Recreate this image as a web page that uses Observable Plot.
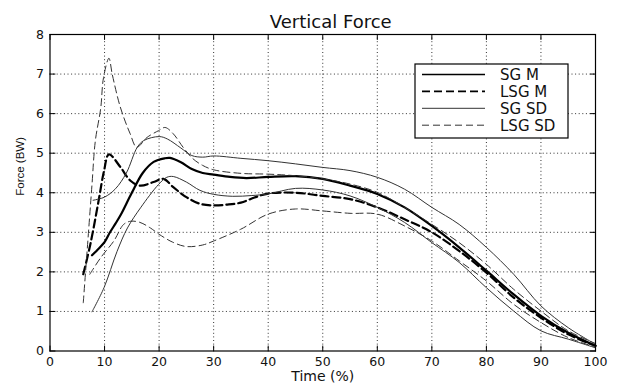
<!DOCTYPE html>
<html><head><meta charset="utf-8">
<script src="https://cdn.jsdelivr.net/npm/d3@7"></script>
<script src="https://cdn.jsdelivr.net/npm/@observablehq/plot@0.6"></script>
<style>
html,body{margin:0;padding:0;background:#fff;}
#chart{width:619px;height:386px;overflow:hidden;}
</style></head><body><div id="chart"></div>
<script>
const titleText = "Vertical Force";
const xLabel = "Time (%)";
const yLabel = "Force (BW)";
const xTicks = [0,10,20,30,40,50,60,70,80,90,100];
const yTicks = [0,1,2,3,4,5,6,7,8];
const seriesNames = ["SG M","LSG M","SG SD","LSG SD"];

// SG M (mean, thick solid)
const sgM_t = [7.7,9,10,11,12,13,15,17,19,21,22,24,26,28,30,33,36,40,45,50,55,60,65,70,75,80,85,90,95,100];
const sgM_f = [2.42,2.6,2.75,3.0,3.22,3.45,4.0,4.5,4.78,4.87,4.88,4.77,4.6,4.5,4.46,4.4,4.37,4.4,4.42,4.35,4.18,3.97,3.63,3.16,2.62,2.03,1.43,0.89,0.46,0.13];
// LSG M (mean, thick dashed)
const lsgM_t = [6.1,7.4,8.9,9.9,10.8,12.9,14.7,16.5,19,20.8,22.6,25,27.5,30,32.5,35,37.5,40,45,50,55,60,65,70,75,80,85,90,95,100];
const lsgM_f = [1.94,2.7,3.79,4.55,4.97,4.65,4.31,4.18,4.27,4.35,4.14,3.89,3.72,3.68,3.7,3.75,3.88,3.98,4.0,3.92,3.84,3.63,3.33,3.0,2.53,1.98,1.35,0.84,0.42,0.13];
// SG SD upper / lower (thin solid)
const sgSDu_t = [7.9,10,12,14,16,17.2,20,21.5,24,26,28,30,35,40,45,50,55,60,65,70,75,80,85,90,95,100];
const sgSDu_f = [3.81,3.89,4.1,4.5,5.15,5.32,5.42,5.36,5.13,4.94,4.9,4.93,4.87,4.81,4.73,4.64,4.56,4.39,4.09,3.63,3.2,2.62,1.94,1.14,0.59,0.17];
const sgSDl_t = [7.7,9.9,12.3,14.2,16.6,19.9,21.4,22.6,25,27.5,30,33.5,37,40,45,50,55,60,65,70,75,80,85,90,95,100];
const sgSDl_f = [0.99,1.6,2.52,3.11,3.62,4.21,4.39,4.41,4.27,4.06,3.96,3.91,3.93,3.97,4.11,4.07,3.92,3.63,3.25,2.74,2.24,1.6,1.01,0.51,0.3,0.08];
// LSG SD upper / lower (thin dashed)
const lsgSDu_t = [6.1,6.8,7.7,8.3,9.3,9.8,10.8,11.4,12.9,14.7,15.9,17.8,19.9,21.1,22.6,24.4,26.2,28,30,35,40,45,50,55,60,65,70,75,80,85,90,95,100];
const lsgSDu_f = [1.22,2.52,4.21,5.3,6.14,6.9,7.4,7.0,6.16,5.49,5.15,5.4,5.57,5.65,5.49,5.15,4.86,4.69,4.58,4.49,4.47,4.43,4.35,4.22,4.01,3.63,3.2,2.74,2.19,1.56,1.01,0.51,0.19];
const lsgSDl_t = [7.3,9.3,11.7,13.5,14.8,16.5,18.4,20,22.5,25,28,30,35,40,45,50,55,60,65,70,75,80,85,90,95,100];
const lsgSDl_f = [1.94,2.36,2.78,3.2,3.28,3.25,3.11,2.95,2.75,2.64,2.68,2.78,3.08,3.46,3.59,3.54,3.48,3.46,3.16,2.78,2.28,1.77,1.18,0.72,0.34,0.1];

const styles = {
  "SG M":   {stroke:"#000", strokeWidth:2.2, dash:null},
  "LSG M":  {stroke:"#000", strokeWidth:2.2, dash:"8,4"},
  "SG SD":  {stroke:"#333", strokeWidth:1,   dash:null},
  "LSG SD": {stroke:"#333", strokeWidth:1,   dash:"7,4"}
};

function rowsOf(series, part, ts, fs) { return ts.map((t,i)=>({series, part, t, f: fs[i]})); }
const lines = [
  rowsOf("SG M","m",sgM_t,sgM_f),
  rowsOf("LSG M","m",lsgM_t,lsgM_f),
  rowsOf("SG SD","u",sgSDu_t,sgSDu_f),
  rowsOf("SG SD","l",sgSDl_t,sgSDl_f),
  rowsOf("LSG SD","u",lsgSDu_t,lsgSDu_f),
  rowsOf("LSG SD","l",lsgSDl_t,lsgSDl_f)
];

const font = "DejaVu Sans, sans-serif";
const tickShape = {draw(context, l) { context.moveTo(0, 0); context.lineTo(0, -l); }};
const tickOpts = {length:5, anchor:"start", shape:tickShape, stroke:"#000", strokeWidth:1};

function legendMark(index, scales, values, dims) {
  const g = d3.create("svg:g").attr("font-family", font);
  const right = dims.width - dims.marginRight - 27;
  const top = dims.marginTop + 30;
  const w = 153, h = 74;
  const left = right - w;
  g.append("rect").attr("x", left).attr("y", top).attr("width", w).attr("height", h)
    .attr("fill", "#fff").attr("stroke", "#000").attr("stroke-width", 1.2);
  seriesNames.forEach((name, i) => {
    const y = top + 10.5 + i * 16.9;
    const s = styles[name];
    g.append("line").attr("x1", left + 7).attr("x2", left + 70).attr("y1", y).attr("y2", y)
      .attr("stroke", s.stroke).attr("stroke-width", s.strokeWidth === 1 ? 1 : 1.6)
      .attr("stroke-dasharray", s.dash);
    g.append("text").attr("x", left + 85).attr("y", y).attr("dy", "0.36em")
      .attr("text-anchor", "start")
      .attr("font-size", 15).attr("fill", "#111").text(name);
  });
  return g.node();
}

const chart = Plot.plot({
  width: 619, height: 386,
  marginLeft: 49.5, marginRight: 24, marginTop: 34, marginBottom: 35.5,
  style: {fontFamily: font, background: "#fff", color: "#111"},
  x: {domain: [0,100], label: null},
  y: {domain: [0,8], label: null},
  marks: [
    Plot.gridX(xTicks.slice(1,-1), {stroke:"#333", strokeOpacity:1, strokeDasharray:"1,2.6", strokeWidth:1}),
    Plot.gridY(yTicks.slice(1,-1), {stroke:"#333", strokeOpacity:1, strokeDasharray:"1,2.6", strokeWidth:1}),
    ...lines.map(d => {
      const s = styles[d[0].series];
      return Plot.line(d, {x:"t", y:"f", stroke:s.stroke, strokeWidth:s.strokeWidth, strokeDasharray:s.dash, curve:"catmull-rom"});
    }),
    Plot.vector(xTicks, {x:d=>d, frameAnchor:"bottom", rotate:0, ...tickOpts}),
    Plot.vector(xTicks, {x:d=>d, frameAnchor:"top", rotate:180, ...tickOpts}),
    Plot.vector(yTicks, {y:d=>d, frameAnchor:"left", rotate:90, ...tickOpts}),
    Plot.vector(yTicks, {y:d=>d, frameAnchor:"right", rotate:-90, ...tickOpts}),
    Plot.axisX(xTicks, {anchor:"bottom", tickSize:0, tickPadding:6, fontSize:12.5, label:null}),
    Plot.axisY(yTicks, {anchor:"left", tickSize:0, tickPadding:6, fontSize:12.5, label:null}),
    Plot.frame({stroke:"#000", strokeWidth:1.2}),
    Plot.text([titleText], {frameAnchor:"top", dx:8, dy:-7, lineAnchor:"bottom", fontSize:18, text:d=>d}),
    Plot.text([xLabel], {frameAnchor:"bottom", dy:25.5, lineAnchor:"middle", fontSize:14, text:d=>d}),
    Plot.text([yLabel], {frameAnchor:"left", dx:-29.5, dy:3, rotate:-90, lineAnchor:"middle", fontSize:11.5, fill:"#111", fontFamily:"Liberation Sans, Arial, sans-serif", text:d=>d}),
    legendMark
  ]
});
document.getElementById("chart").append(chart);
</script></body></html>
